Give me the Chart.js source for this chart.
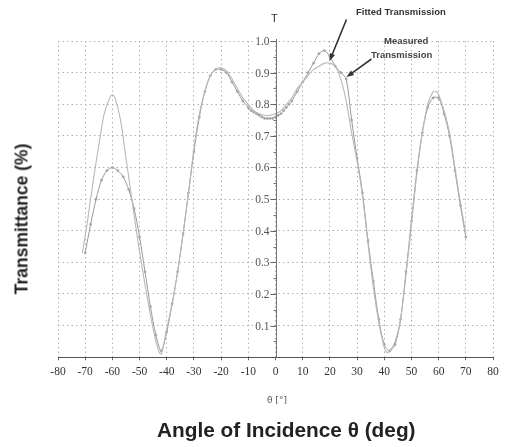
<!DOCTYPE html>
<html>
<head>
<meta charset="utf-8">
<script src="https://cdn.jsdelivr.net/npm/chart.js@4/dist/chart.umd.min.js"></script>
<style>
  html, body { margin: 0; padding: 0; background: #fff; }
  #wrap { position: relative; width: 508px; height: 447px; overflow: hidden; }
  canvas { position: absolute; left: 0; top: 0; }
  .t { position: absolute; white-space: nowrap; color: #222; font-family: "Liberation Sans", Arial, sans-serif; }
</style>
</head>
<body>
<div id="wrap">
  <canvas id="c" width="508" height="447"></canvas>
  <div class="t" style="left:271px;top:12px;font-size:11px;color:#333;">T</div>
  <div class="t" style="left:356px;top:6px;font-size:9.5px;font-weight:bold;color:#333;">Fitted Transmission</div>
  <div class="t" style="left:384px;top:35px;font-size:9.5px;font-weight:bold;color:#444;">Measured</div>
  <div class="t" style="left:371px;top:49px;font-size:9.5px;font-weight:bold;color:#444;">Transmission</div>
  <div class="t" style="left:267px;top:395px;font-size:9px;color:#555;font-family:'DejaVu Sans',sans-serif;">θ [°]</div>
  <div class="t" style="left:157px;top:418px;font-size:20.8px;font-weight:bold;">Angle of Incidence θ (deg)</div>
  <div class="t" style="left:22px;top:219px;font-size:17.5px;font-weight:bold;transform:translate(-50%,-50%) rotate(-90deg);">Transmittance (%)</div>
</div>
<script>
// ---- data ----
const fitAngle = [-71,-69,-67,-65,-63,-61,-60,-59,-57,-55,-53,-51,-49,-47,-45,-43,-42,-40,-38,-36,-34,-32,-30,-28,-26,-24,-22,-20,-18,-16,-14,-12,-10,-8,-6,-4,-2,0,2,4,6,8,10,12,14,16,18,20,22,24,26,28,30,32,34,36,38,40,41,42,44,46,48,50,52,54,56,58,59,60,62,64,66,68,70];
const fitT = [0.33,0.44,0.56,0.67,0.77,0.82,0.83,0.82,0.75,0.63,0.51,0.39,0.28,0.18,0.09,0.02,0.01,0.09,0.17,0.27,0.39,0.52,0.66,0.77,0.84,0.89,0.91,0.915,0.905,0.88,0.85,0.82,0.80,0.78,0.77,0.765,0.765,0.77,0.78,0.80,0.82,0.85,0.87,0.89,0.91,0.92,0.93,0.93,0.92,0.88,0.81,0.71,0.62,0.51,0.36,0.22,0.11,0.03,0.015,0.02,0.05,0.12,0.26,0.42,0.58,0.71,0.80,0.84,0.84,0.83,0.78,0.71,0.60,0.49,0.39];

const measAngle = [-70,-68,-66,-64,-62,-60,-58,-56,-54,-52,-50,-48,-46,-44,-42,-40,-38,-36,-34,-32,-30,-28,-26,-24,-22,-20,-18,-16,-14,-12,-10,-9,-8,-7,-6,-5,-4,-3,-2,-1,0,1,2,3,4,5,6,8,10,12,14,16,18,20,22,24,26,28,30,32,34,36,38,40,42,44,46,48,50,52,54,56,58,60,62,64,66,68,70];
const measT = [0.33,0.42,0.50,0.56,0.59,0.60,0.59,0.57,0.53,0.47,0.38,0.27,0.16,0.07,0.02,0.08,0.17,0.27,0.39,0.52,0.65,0.76,0.84,0.89,0.91,0.91,0.90,0.87,0.84,0.81,0.79,0.78,0.775,0.77,0.765,0.76,0.755,0.755,0.755,0.755,0.76,0.765,0.77,0.78,0.79,0.80,0.81,0.84,0.87,0.90,0.93,0.96,0.97,0.95,0.92,0.90,0.88,0.75,0.63,0.52,0.37,0.24,0.12,0.04,0.02,0.04,0.12,0.27,0.43,0.59,0.71,0.79,0.82,0.82,0.77,0.70,0.59,0.48,0.38];

const xTicks = [-80,-70,-60,-50,-40,-30,-20,-10,0,10,20,30,40,50,60,70,80];
const yTicks = [0.1,0.2,0.3,0.4,0.5,0.6,0.7,0.8,0.9,1.0];
const yTickLabels = ["0.1","0.2","0.3","0.4","0.5","0.6","0.7","0.8","0.9","1.0"];

// annotation arrows: [fromAngle, fromT, toAngle, toT]
const arrowFitted = [26.1, 1.068, 19.9, 0.937];
const arrowMeasured = [35.3, 0.943, 26.1, 0.886];

const toXY = (xs, ys) => xs.map((x, i) => ({x: x, y: ys[i]}));

const centerAxis = {
  id: 'centerAxis',
  afterDraw(chart) {
    const ctx = chart.ctx, xs = chart.scales.x, ys = chart.scales.y;
    const x0 = Math.round(xs.getPixelForValue(0)) + 0.5;
    ctx.save();
    // bottom axis line (solid)
    const yb = Math.round(ys.getPixelForValue(0)) + 0.5;
    ctx.strokeStyle = '#555';
    ctx.lineWidth = 1.2;
    ctx.beginPath();
    ctx.moveTo(xs.getPixelForValue(-80), yb);
    ctx.lineTo(xs.getPixelForValue(80), yb);
    ctx.stroke();
    // vertical centre axis line
    ctx.strokeStyle = '#777';
    ctx.lineWidth = 1;
    ctx.beginPath();
    ctx.moveTo(x0, yb);
    ctx.lineTo(x0, ys.getPixelForValue(1.0) - 2);
    ctx.stroke();
    // minor ticks
    for (let v = 0.05; v < 1.0; v += 0.1) {
      const y = Math.round(ys.getPixelForValue(v)) + 0.5;
      ctx.beginPath(); ctx.moveTo(x0 - 3, y); ctx.lineTo(x0, y); ctx.stroke();
    }
    // labels and major ticks
    ctx.font = '11.5px "Liberation Serif", "DejaVu Serif", serif';
    ctx.textAlign = 'right';
    ctx.textBaseline = 'middle';
    yTicks.forEach((v, i) => {
      const y = Math.round(ys.getPixelForValue(v)) + 0.5;
      const w = ctx.measureText(yTickLabels[i]).width;
      ctx.fillStyle = '#fff';
      ctx.fillRect(x0 - 7 - w - 1, y - 5, w + 2, 10);
      ctx.strokeStyle = '#666';
      ctx.beginPath(); ctx.moveTo(x0 - 6, y); ctx.lineTo(x0, y); ctx.stroke();
      ctx.fillStyle = '#555';
      ctx.fillText(yTickLabels[i], x0 - 7, y + 0.5);
    });
    // arrows
    const drawArrow = (a) => {
      const x1 = xs.getPixelForValue(a[0]), y1 = ys.getPixelForValue(a[1]);
      const x2 = xs.getPixelForValue(a[2]), y2 = ys.getPixelForValue(a[3]);
      const ang = Math.atan2(y2 - y1, x2 - x1);
      ctx.strokeStyle = '#333'; ctx.fillStyle = '#333'; ctx.lineWidth = 1.6;
      ctx.beginPath(); ctx.moveTo(x1, y1);
      ctx.lineTo(x2 - 5 * Math.cos(ang), y2 - 5 * Math.sin(ang)); ctx.stroke();
      ctx.beginPath();
      ctx.moveTo(x2, y2);
      ctx.lineTo(x2 - 8 * Math.cos(ang - 0.35), y2 - 8 * Math.sin(ang - 0.35));
      ctx.lineTo(x2 - 8 * Math.cos(ang + 0.35), y2 - 8 * Math.sin(ang + 0.35));
      ctx.closePath(); ctx.fill();
    };
    drawArrow(arrowFitted);
    drawArrow(arrowMeasured);
    ctx.restore();
  }
};

new Chart(document.getElementById('c'), {
  type: 'line',
  data: {
    datasets: [
      {
        label: 'Fitted Transmission',
        data: toXY(fitAngle, fitT),
        borderColor: '#b8b8b8',
        borderWidth: 1.1,
        pointRadius: 0,
        tension: 0.3,
        fill: false
      },
      {
        label: 'Measured Transmission',
        data: toXY(measAngle, measT),
        borderColor: '#999',
        borderWidth: 1,
        pointRadius: 1.1,
        pointBackgroundColor: '#aaa',
        pointBorderColor: '#999',
        pointBorderWidth: 0.5,
        tension: 0.3,
        fill: false
      }
    ]
  },
  options: {
    responsive: false,
    animation: false,
    events: [],
    layout: { padding: { left: 58, right: 15, top: 41, bottom: 63 } },
    plugins: { legend: { display: false }, tooltip: { enabled: false } },
    scales: {
      x: {
        type: 'linear',
        min: -80, max: 80,
        afterBuildTicks: (s) => { s.ticks = xTicks.map(v => ({value: v})); },
        ticks: {
          padding: 5,
          maxRotation: 0,
          autoSkip: false,
          color: '#333',
          font: { family: '"Liberation Serif", "DejaVu Serif", serif', size: 11.5 },
          callback: (v) => String(v)
        },
        grid: {
          color: '#b0b0b0',
          lineWidth: 1,
          tickLength: 3,
          tickColor: '#666',
          tickBorderDash: []
        },
        border: { display: false, dash: [1.5, 3] }
      },
      y: {
        type: 'linear',
        min: 0, max: 1.0,
        afterBuildTicks: (s) => { s.ticks = [0].concat(yTicks).map(v => ({value: v})); },
        ticks: { display: false },
        grid: { color: '#b0b0b0', lineWidth: 1, drawTicks: false },
        border: { display: false, dash: [1.5, 3] }
      }
    }
  },
  plugins: [centerAxis]
});
</script>
</body>
</html>
